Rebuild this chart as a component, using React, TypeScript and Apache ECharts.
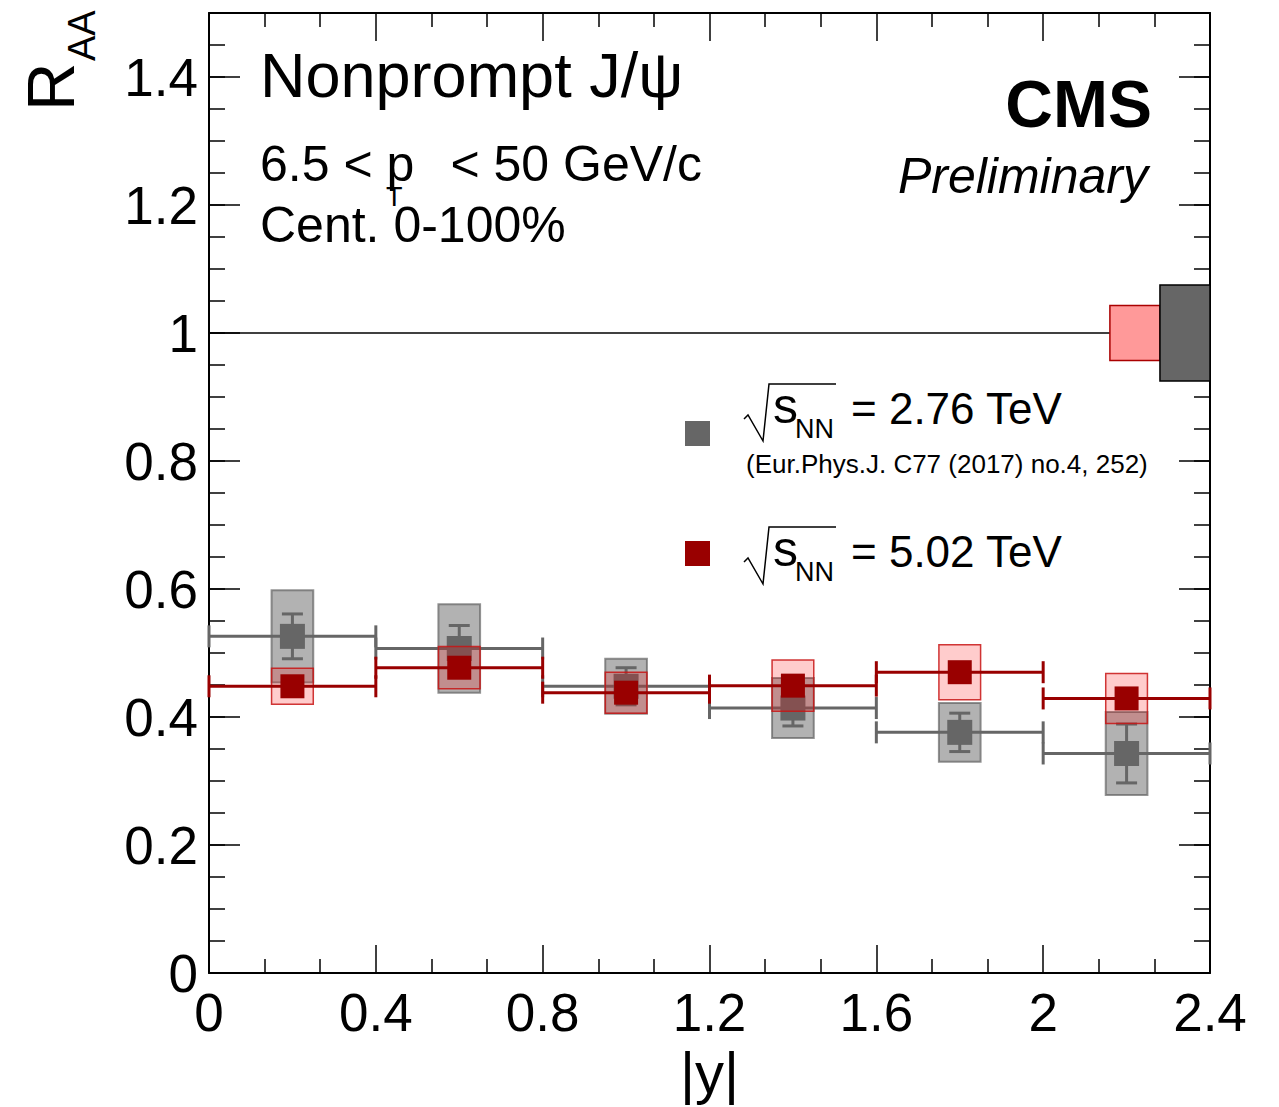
import React, { useEffect, useRef } from 'react';
import * as echarts from 'echarts';

// ---------------- data ----------------
const binLow = [0, 0.4, 0.8, 1.2, 1.6, 2.0];
const binHigh = [0.4, 0.8, 1.2, 1.6, 2.0, 2.4];
const binCenter = [0.2, 0.6, 1.0, 1.4, 1.8, 2.2];

// sqrt(sNN) = 2.76 TeV
const raa276 = [0.526, 0.507, 0.448, 0.414, 0.376, 0.343];
const stat276 = [0.035, 0.036, 0.029, 0.028, 0.030, 0.046];
const syst276 = [0.072, 0.069, 0.043, 0.047, 0.046, 0.065];

// sqrt(sNN) = 5.02 TeV
const raa502 = [0.448, 0.477, 0.438, 0.449, 0.470, 0.429];
const syst502 = [0.028, 0.033, 0.032, 0.040, 0.043, 0.039];

// global uncertainties at R_AA = 1 (5.02, 2.76)
const globalLow = [2.16, 2.28];
const globalHigh = [2.28, 2.4];
const globalUnc = [0.043, 0.075];

const unityLine = [[0, 1], [2.4, 1]];

const xTickLabels = ['0', '0.4', '0.8', '1.2', '1.6', '2', '2.4'];
const yTickLabels = ['0', '0.2', '0.4', '0.6', '0.8', '1', '1.2', '1.4'];

// ---------------- style constants ----------------
const FONT = "'Liberation Sans', Arial, Helvetica, sans-serif";
const BOX_HALF = 0.05;
const CAP_V = 11;
const CAP_H = 10.5;
const GRAY = '#666666';
const RED = '#990000';

function boxSeries(data: number[][], fill: string, stroke: string, lw: number, z: number) {
  return {
    type: 'custom',
    xAxisIndex: 0,
    yAxisIndex: 0,
    z,
    silent: true,
    encode: { x: 0, y: 1 },
    data,
    renderItem: (_p: any, api: any) => {
      const xc = api.value(0);
      const v = api.value(1);
      const e = api.value(2);
      const a = api.coord([xc - BOX_HALF, v + e]);
      const b = api.coord([xc + BOX_HALF, v - e]);
      return {
        type: 'rect',
        shape: { x: a[0], y: a[1], width: b[0] - a[0], height: b[1] - a[1] },
        style: { fill, stroke, lineWidth: lw },
      };
    },
  };
}

function globalBoxSeries(data: number[][], fill: string, stroke: string, z: number) {
  return {
    type: 'custom',
    xAxisIndex: 0,
    yAxisIndex: 0,
    z,
    silent: true,
    encode: { x: 0, y: 2 },
    data,
    renderItem: (_p: any, api: any) => {
      const lo = api.value(0);
      const hi = api.value(1);
      const u = api.value(2);
      const a = api.coord([lo, 1 + u]);
      const b = api.coord([hi, 1 - u]);
      return {
        type: 'rect',
        shape: { x: a[0], y: a[1], width: b[0] - a[0], height: b[1] - a[1] },
        style: { fill, stroke, lineWidth: 1.5 },
      };
    },
  };
}

function barSeries(data: number[][], color: string, withStat: boolean, z: number) {
  return {
    type: 'custom',
    xAxisIndex: 0,
    yAxisIndex: 0,
    z,
    silent: true,
    encode: { x: 2, y: 3 },
    data,
    renderItem: (_p: any, api: any) => {
      const lo = api.value(0);
      const hi = api.value(1);
      const xc = api.value(2);
      const v = api.value(3);
      const st = { stroke: color, lineWidth: 3 };
      const pl = api.coord([lo, v]);
      const ph = api.coord([hi, v]);
      const children: any[] = [
        { type: 'line', shape: { x1: pl[0], y1: pl[1], x2: ph[0], y2: ph[1] }, style: st },
        { type: 'line', shape: { x1: pl[0], y1: pl[1] - CAP_V, x2: pl[0], y2: pl[1] + CAP_V }, style: st },
        { type: 'line', shape: { x1: ph[0], y1: ph[1] - CAP_V, x2: ph[0], y2: ph[1] + CAP_V }, style: st },
      ];
      if (withStat) {
        const s = api.value(4);
        const pt = api.coord([xc, v + s]);
        const pb = api.coord([xc, v - s]);
        children.push(
          { type: 'line', shape: { x1: pt[0], y1: pt[1], x2: pb[0], y2: pb[1] }, style: st },
          { type: 'line', shape: { x1: pt[0] - CAP_H, y1: pt[1], x2: pt[0] + CAP_H, y2: pt[1] }, style: st },
          { type: 'line', shape: { x1: pb[0] - CAP_H, y1: pb[1], x2: pb[0] + CAP_H, y2: pb[1] }, style: st },
        );
      }
      return { type: 'group', children };
    },
  };
}

function txt(text: string, x: number, y: number, font: string, align = 'left', extra: any = {}) {
  return {
    type: 'text',
    x,
    y,
    silent: true,
    ...extra,
    style: {
      text,
      font,
      fill: '#000',
      align,
      textAlign: align,
      verticalAlign: 'middle',
      textVerticalAlign: 'middle',
    },
  };
}

function radical(x0: number, yTop: number, yBot: number, xEnd: number) {
  return {
    type: 'polyline',
    silent: true,
    shape: {
      points: [
        [x0 - 2, yTop + 35],
        [x0 + 2, yTop + 31],
        [x0 + 17, yBot],
        [x0 + 23, yTop],
        [xEnd, yTop],
      ],
    },
    style: { stroke: '#000', lineWidth: 1.5, fill: 'none' },
  };
}

export default function App() {
  const ref = useRef<HTMLDivElement>(null);

  useEffect(() => {
    if (!ref.current) return;
    const chart = echarts.init(ref.current, null, { renderer: 'svg' });

    const tickStyle = { color: '#000', width: 1.5 };
    const axisLineStyle = { show: true, lineStyle: { color: '#000', width: 2 } };

    const xBase = {
      type: 'value',
      min: 0,
      max: 2.4,
      interval: 0.4,
      axisLine: { ...axisLineStyle, onZero: false },
      axisTick: { show: true, inside: true, length: 28, lineStyle: tickStyle },
      minorTick: { show: true, splitNumber: 3, length: 14, lineStyle: tickStyle },
      splitLine: { show: false },
      minorSplitLine: { show: false },
    };

    const yMajor = {
      type: 'value',
      min: 0,
      max: 1.5,
      interval: 0.2,
      axisLine: { ...axisLineStyle, onZero: false },
      axisTick: { show: true, inside: true, length: 31, lineStyle: tickStyle },
      splitLine: { show: false },
    };
    const yMinor = {
      type: 'value',
      min: 0,
      max: 1.5,
      interval: 0.05,
      axisLine: { show: false, onZero: false },
      axisTick: { show: true, inside: true, length: 16, lineStyle: tickStyle },
      axisLabel: { show: false },
      splitLine: { show: false },
    };

    const data276Box = binCenter.map((c, i) => [c, raa276[i], syst276[i]]);
    const data502Box = binCenter.map((c, i) => [c, raa502[i], syst502[i]]);
    const data276Bar = binCenter.map((c, i) => [binLow[i], binHigh[i], c, raa276[i], stat276[i]]);
    const data502Bar = binCenter.map((c, i) => [binLow[i], binHigh[i], c, raa502[i]]);

    const option: any = {
      animation: false,
      grid: {
        left: 209,
        right: 69,
        top: 13,
        bottom: 134,
        containLabel: false,
        outerBoundsMode: 'none',
      },
      xAxis: [
        {
          ...xBase,
          position: 'bottom',
          name: '|y|',
          nameLocation: 'middle',
          nameGap: 58,
          nameTextStyle: { fontFamily: FONT, fontSize: 58, color: '#000' },
          axisLabel: {
            show: true,
            margin: 13,
            fontFamily: FONT,
            fontSize: 53,
            color: '#000',
            formatter: (v: number) => xTickLabels[Math.round(v / 0.4)] ?? '',
          },
        },
        { ...xBase, position: 'top', axisLabel: { show: false } },
      ],
      yAxis: [
        {
          ...yMajor,
          position: 'left',
          axisLabel: {
            show: true,
            margin: 11,
            showMaxLabel: false,
            fontFamily: FONT,
            fontSize: 53,
            color: '#000',
            formatter: (v: number) => {
              const i = Math.round(v / 0.2);
              return Math.abs(v - i * 0.2) < 1e-6 ? yTickLabels[i] ?? '' : '';
            },
          },
        },
        { ...yMinor, position: 'left' },
        { ...yMajor, position: 'right', axisLabel: { show: false } },
        { ...yMinor, position: 'right' },
      ],
      series: [
        {
          type: 'line',
          xAxisIndex: 0,
          yAxisIndex: 0,
          z: 1,
          silent: true,
          symbol: 'none',
          data: unityLine,
          lineStyle: { color: '#000', width: 1.6 },
        },
        globalBoxSeries([[globalLow[0], globalHigh[0], globalUnc[0]]], '#ff9999', '#aa0000', 2),
        globalBoxSeries([[globalLow[1], globalHigh[1], globalUnc[1]]], GRAY, '#000000', 2),
        boxSeries(data276Box, 'rgba(102,102,102,0.5)', 'rgba(90,90,90,0.65)', 2, 3),
        barSeries(data276Bar, GRAY, true, 4),
        {
          type: 'scatter',
          xAxisIndex: 0,
          yAxisIndex: 0,
          z: 5,
          silent: true,
          symbol: 'rect',
          symbolSize: 25,
          data: binCenter.map((c, i) => [c, raa276[i]]),
          itemStyle: { color: GRAY, opacity: 1 },
        },
        boxSeries(data502Box, 'rgba(255,0,0,0.2)', 'rgba(200,20,20,0.85)', 1.5, 6),
        barSeries(data502Bar, RED, false, 7),
        {
          type: 'scatter',
          xAxisIndex: 0,
          yAxisIndex: 0,
          z: 8,
          silent: true,
          symbol: 'rect',
          symbolSize: 24,
          data: binCenter.map((c, i) => [c, raa502[i]]),
          itemStyle: { color: RED, opacity: 1 },
        },
      ],
      graphic: [
        // y-axis title R_AA
        txt('R', 50, 111, `67px ${FONT}`, 'left', { rotation: Math.PI / 2 }),
        txt('AA', 82, 61, `38px ${FONT}`, 'left', { rotation: Math.PI / 2 }),
        // labels
        txt('Nonprompt J/\u03c8', 260, 75, `63px ${FONT}`),
        txt('6.5 < p', 260, 164, `50px ${FONT}`),
        txt('T', 386, 197, `27px ${FONT}`),
        txt('< 50 GeV/c', 702, 164, `50px ${FONT}`, 'right'),
        txt('Cent. 0-100%', 260, 225, `50px ${FONT}`),
        txt('CMS', 1152, 104, `bold 66px ${FONT}`, 'right'),
        txt('Preliminary', 1148, 176, `italic 50px ${FONT}`, 'right'),
        // legend entry 1
        {
          type: 'rect',
          silent: true,
          shape: { x: 685, y: 421, width: 25, height: 25 },
          style: { fill: GRAY },
        },
        radical(746, 384, 441, 836),
        txt('s', 773, 406, `50px ${FONT}`),
        txt('NN', 795, 429, `27px ${FONT}`),
        txt('= 2.76 TeV', 851, 408, `44px ${FONT}`),
        txt('(Eur.Phys.J. C77 (2017) no.4, 252)', 746, 464, `26px ${FONT}`),
        // legend entry 2
        {
          type: 'rect',
          silent: true,
          shape: { x: 685, y: 541, width: 25, height: 25 },
          style: { fill: RED },
        },
        radical(746, 527, 584, 836),
        txt('s', 773, 549, `50px ${FONT}`),
        txt('NN', 795, 572, `27px ${FONT}`),
        txt('= 5.02 TeV', 851, 551, `44px ${FONT}`),
      ],
    };

    chart.setOption(option);
    return () => chart.dispose();
  }, []);

  return (
    <div
      ref={ref}
      style={{ position: 'absolute', left: 0, top: 0, width: 1279, height: 1107, background: '#fff' }}
    />
  );
}
